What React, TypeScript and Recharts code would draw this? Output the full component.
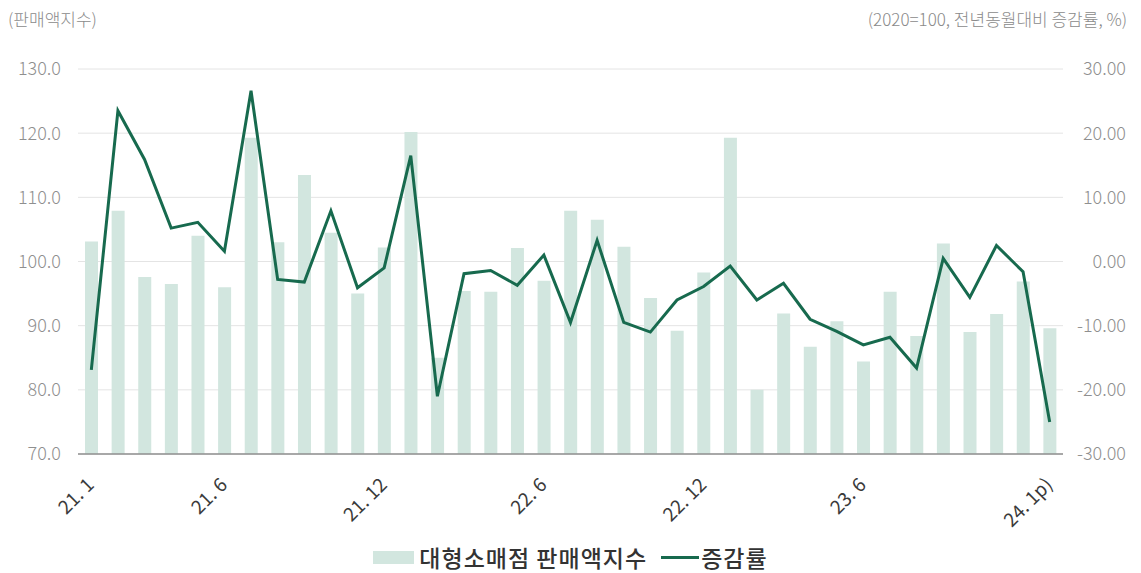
import React from 'react';
import { Bar, CartesianGrid, ComposedChart, Line, XAxis, YAxis } from 'recharts';

const months = [
  '21. 1', '21. 2', '21. 3', '21. 4', '21. 5', '21. 6', '21. 7', '21. 8', '21. 9', '21. 10', '21. 11', '21. 12',
  '22. 1', '22. 2', '22. 3', '22. 4', '22. 5', '22. 6', '22. 7', '22. 8', '22. 9', '22. 10', '22. 11', '22. 12',
  '23. 1', '23. 2', '23. 3', '23. 4', '23. 5', '23. 6', '23. 7', '23. 8', '23. 9', '23. 10', '23. 11', '23. 12',
  '24. 1p)',
];

// 대형소매점 판매액지수 (2020=100)
const salesIndex = [
  103.1, 107.9, 97.6, 96.5, 104.0, 96.0, 119.3, 103.0, 113.5, 104.5, 95.0, 102.2,
  120.2, 85.0, 95.4, 95.3, 102.1, 97.0, 107.9, 106.5, 102.3, 94.3, 89.2, 98.3,
  119.3, 80.0, 91.9, 86.7, 90.7, 84.4, 95.3, 88.4, 102.8, 89.0, 91.8, 96.9,
  89.6,
];

// 증감률 (전년동월대비, %)
const yoyChange = [
  -16.9, 23.5, 15.9, 5.2, 6.1, 1.6, 26.6, -2.8, -3.2, 7.9, -4.1, -1.0,
  16.5, -21.0, -1.9, -1.4, -3.7, 1.0, -9.5, 3.3, -9.5, -11.0, -6.0, -3.9,
  -0.7, -6.0, -3.4, -9.0, -10.9, -13.0, -11.8, -16.6, 0.5, -5.6, 2.5, -1.6,
  -25.0,
];

const shownLabels = ['21. 1', '21. 6', '21. 12', '22. 6', '22. 12', '23. 6', '24. 1p)'];
const leftTicks = [70, 80, 90, 100, 110, 120, 130];
const rightTicks = [-30, -20, -10, 0, 10, 20, 30];

const data = months.map((m, i) => ({ month: m, index: salesIndex[i], change: yoyChange[i] }));

const BAR_COLOR = '#d2e6df';
const LINE_COLOR = '#176a4e';
const FONT = '"Noto Sans CJK KR", "Noto Sans", sans-serif';

const MonthTick = (props: any) => {
  const { x, y, payload } = props;
  if (!shownLabels.includes(payload.value)) return <g />;
  const tx = x + 4;
  const ty = y + 32;
  return (
    <text
      x={tx}
      y={ty}
      transform={`rotate(-45, ${tx}, ${ty})`}
      textAnchor="end"
      fill="#3a3a3a"
      fontSize={19}
      fontFamily={FONT}
    >
      {payload.value}
    </text>
  );
};

export default function App() {
  return (
    <div style={{ position: 'absolute', left: 0, top: 0, width: 1141, height: 573, background: '#fff', fontFamily: FONT }}>
      <div style={{ position: 'absolute', left: 8, top: 6, fontSize: 17, color: '#8a8a8a', fontWeight: 300 }}>(판매액지수)</div>
      <div style={{ position: 'absolute', right: 14, top: 6, fontSize: 17, color: '#8a8a8a', fontWeight: 300 }}>
        (2020=100, 전년동월대비 증감률, %)
      </div>
      <ComposedChart
        width={1141}
        height={573}
        data={data}
        margin={{ top: 69, right: 0, left: 0, bottom: 58 }}
        barCategoryGap={0}
      >
        <CartesianGrid vertical={false} stroke="#e4e4e4" yAxisId="left" />
        <XAxis
          dataKey="month"
          interval={0}
          height={61}
          tickSize={0}
          tickMargin={0}
          axisLine={{ stroke: '#8f8f8f', strokeWidth: 1.5 }}
          tickLine={false}
          tick={MonthTick}
        />
        <YAxis
          yAxisId="left"
          width={78}
          domain={[70, 130]}
          ticks={leftTicks}
          axisLine={false}
          tickLine={false}
          tickSize={0}
          tickMargin={17}
          tickFormatter={(v: number) => v.toFixed(1)}
          tick={{ fill: '#8f8f8f', fontSize: 18, fontFamily: FONT, fontWeight: 300 }}
        />
        <YAxis
          yAxisId="right"
          orientation="right"
          width={78}
          domain={[-30, 30]}
          ticks={rightTicks}
          axisLine={false}
          tickLine={false}
          tickSize={0}
          tickMargin={63}
          tickFormatter={(v: number) => v.toFixed(2)}
          tick={{ fill: '#8f8f8f', fontSize: 18, fontFamily: FONT, fontWeight: 300, textAnchor: 'end' }}
        />
        <Bar yAxisId="left" dataKey="index" fill={BAR_COLOR} barSize={13} isAnimationActive={false} />
        <Line
          yAxisId="right"
          type="linear"
          dataKey="change"
          stroke={LINE_COLOR}
          strokeWidth={3}
          dot={false}
          activeDot={false}
          isAnimationActive={false}
        />
      </ComposedChart>
      <div
        style={{
          position: 'absolute',
          left: 0,
          width: 1141,
          top: 540,
          display: 'flex',
          justifyContent: 'center',
          alignItems: 'center',
          fontSize: 23,
          fontWeight: 500,
          color: '#333',
          letterSpacing: 1,
        }}
      >
        <span style={{ display: 'inline-block', width: 41, height: 13, background: BAR_COLOR, marginRight: 5 }} />
        <span>대형소매점 판매액지수</span>
        <span style={{ display: 'inline-block', width: 38, height: 3, background: LINE_COLOR, marginLeft: 14, marginRight: 2 }} />
        <span>증감률</span>
      </div>
    </div>
  );
}
